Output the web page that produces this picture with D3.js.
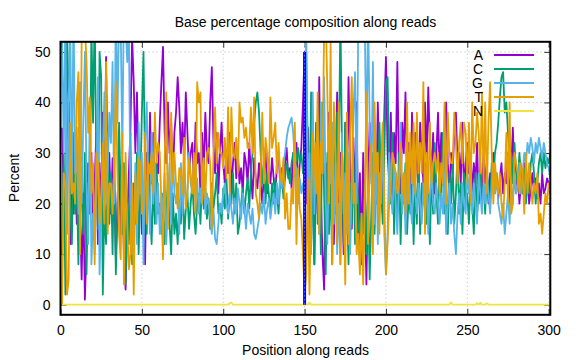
<!DOCTYPE html>
<html lang="en">
<head>
<meta charset="utf-8">
<script src="https://d3js.org/d3.v7.min.js"></script>
<style>
  body { margin: 0; background: #fff; }
  text { font-family: "Liberation Sans", Arial, sans-serif; fill: #000; }
</style>
</head>
<body>
<div id="chart"></div>
<script>

// positions 1..301 along the read
var bases = ["A", "C", "G", "T", "N"];
var colors = ["#9400d3", "#009e73", "#56b4e9", "#e69f00", "#f0e442"];

var baseA = [
  35, 20, 14, 28, 40, 12, 24, 18, 30, 16,
  26, 18, 5, 22, 1, 12, 28, 20, 30, 15,
  24, 34, 12, 28, 18, 38, 22, 49, 26, 30,
  18, 29, 24, 9, 20, 29, 14, 22, 10, 3,
  16, 26, 35, 53, 44, 30, 42, 25, 28, 14,
  22, 8, 30, 20, 38, 24, 34, 18, 28, 26,
  36, 44, 51, 34, 28, 40, 30, 36, 24, 34,
  38, 45, 39, 30, 36, 28, 42, 34, 26, 30,
  32, 24, 36, 28, 30, 22, 34, 26, 38, 30,
  28, 40, 47, 32, 26, 34, 22, 30, 36, 28,
  24, 30, 26, 34, 22, 28, 32, 25, 30, 24,
  27, 22, 30, 28, 24, 32, 26, 21, 29, 25,
  23, 28, 24, 20, 26, 31, 22, 27, 24, 29,
  25, 21, 28, 30, 24, 26, 22, 28, 31, 25,
  27, 23, 30, 26, 32, 22, 28, 31, 40, 50,
  20, 35, 12, 40, 24, 8, 30, 18, 45, 22,
  10, 3, 28, 15, 38, 20, 32, 12, 26, 42,
  18, 30, 24, 10, 36, 22, 45, 28, 15, 33,
  20, 40, 12, 26, 8, 30, 18, 4, 24, 36,
  28, 14, 34, 20, 40, 26, 30, 18, 38, 49,
  30, 24, 38, 20, 34, 28, 48, 26, 22, 36,
  30, 42, 24, 32, 20, 38, 26, 34, 28, 22,
  36, 30, 24, 40, 28, 43, 32, 26, 34, 22,
  30, 38, 26, 34, 24, 32, 40, 28, 22, 30,
  26, 34, 38, 28, 30, 24, 36, 22, 28, 32,
  26, 30, 22, 28, 24, 32, 20, 26, 22, 30,
  24, 28, 20, 26, 23, 30, 22, 26, 21, 25,
  28, 22, 26, 24, 30, 20, 27, 35, 24, 22,
  26, 20, 24, 22, 28, 21, 25, 20, 23, 26,
  22, 25, 21, 24, 20, 26, 22, 23, 25, 24,
  22
];

var baseC = [
  10, 30, 2, 55, 41, 20, 12, 34, 18, 26,
  8, 40, 22, 14, 30, 6, 24, 18, 55, 36,
  58, 28, 15, 50, 45, 2, 20, 12, 34, 16,
  26, 10, 30, 6, 18, 36, 22, 14, 28, 4,
  20, 12, 34, 8, 24, 16, 30, 10, 22, 38,
  50, 26, 14, 30, 20, 12, 24, 16, 28, 18,
  20, 14, 22, 12, 18, 25, 16, 10, 22, 14,
  18, 12, 20, 16, 24, 13, 19, 22, 15, 20,
  24, 18, 14, 20, 22, 16, 25, 19, 23, 17,
  21, 15, 24, 19, 22, 26, 18, 20, 16, 23,
  19, 25, 17, 22, 20, 26, 18, 24, 14, 16,
  20, 23, 18, 22, 25, 19, 26, 30, 36, 40,
  42, 38, 30, 24, 28, 20, 26, 22, 18, 24,
  20, 25, 22, 18, 24, 27, 21, 25, 28, 26,
  24, 28, 30, 27, 29, 31, 28, 30, 26, 29,
  50, 30, 12, 42, 20, 8, 36, 16, 28, 10,
  40, 22, 6, 30, 14, 24, 8, 34, 18, 38,
  26, 58, 30, 12, 36, 20, 8, 24, 16, 30,
  12, 26, 20, 8, 18, 14, 24, 10, 22, 5,
  18, 30, 14, 26, 20, 36, 24, 16, 30, 44,
  45, 28, 20, 34, 14, 26, 18, 30, 12, 24,
  20, 28, 14, 22, 18, 26, 12, 24, 16, 30,
  14, 24, 20, 28, 16, 22, 12, 26, 18, 32,
  22, 16, 28, 20, 34, 18, 24, 14, 26, 20,
  28, 16, 22, 30, 18, 24, 14, 26, 20, 22,
  16, 24, 20, 14, 26, 18, 22, 28, 20, 24,
  18, 26, 22, 20, 28, 24, 30, 32, 36, 41,
  45, 46, 38, 40, 34, 28, 30, 24, 32, 26,
  24, 30, 26, 22, 27, 20, 25, 22, 28, 30,
  26, 20, 24, 28, 30, 26, 30, 27, 29, 28,
  30
];

var baseG = [
  52, 30, 58, 14, 40, 55, 22, 60, 26, 35,
  18, 44, 20, 36, 50, 24, 12, 40, 8, 18,
  10, 22, 45, 6, 18, 30, 42, 20, 26, 38,
  32, 48, 20, 60, 36, 58, 55, 30, 62, 56,
  48, 55, 20, 10, 14, 28, 12, 36, 22, 30,
  8, 32, 40, 22, 14, 34, 20, 28, 16, 24,
  14, 22, 18, 26, 12, 20, 28, 16, 30, 22,
  20, 24, 14, 28, 18, 26, 20, 22, 30, 24,
  22, 28, 20, 25, 18, 23, 20, 26, 18, 22,
  20, 17, 14, 19, 13, 12, 16, 20, 18, 22,
  24, 20, 18, 22, 19, 16, 21, 18, 23, 20,
  17, 22, 19, 15, 20, 18, 16, 19, 14, 13,
  15, 17, 20, 18, 22, 16, 19, 21, 17, 20,
  22, 18, 24, 20, 26, 23, 28, 30, 33, 35,
  36, 37, 34, 28, 27, 20, 25, 22, 24, 20,
  56, 20, 30, 10, 42, 18, 32, 24, 14, 40,
  26, 45, 20, 12, 30, 24, 36, 16, 28, 10,
  20, 8, 34, 18, 26, 14, 30, 10, 24, 38,
  46, 20, 56, 62, 58, 60, 55, 30, 58, 36,
  24, 48, 16, 30, 12, 26, 20, 34, 14, 6,
  14, 30, 22, 18, 28, 20, 14, 24, 36, 18,
  26, 14, 22, 30, 20, 16, 28, 22, 18, 24,
  20, 16, 24, 18, 28, 14, 22, 26, 20, 18,
  24, 20, 16, 22, 18, 26, 14, 20, 24, 16,
  20, 14, 10, 18, 22, 16, 24, 20, 18, 26,
  22, 28, 18, 24, 20, 16, 26, 22, 18, 24,
  20, 26, 22, 18, 24, 28, 22, 26, 20, 18,
  16, 20, 14, 18, 22, 16, 24, 20, 26, 22,
  24, 28, 22, 26, 30, 28, 32, 30, 33, 31,
  28, 32, 30, 33, 31, 29, 32, 30, 28, 27,
  25
];

var baseT = [
  0, 26, 24, 2, 5, 36, 22, 24, 20, 40,
  46, 10, 52, 60, 55, 48, 34, 41, 22, 28,
  8, 30, 28, 16, 22, 32, 16, 48, 14, 24,
  24, 18, 26, 44, 26, 14, 9, 34, 4, 30,
  16, 7, 10, 24, 2, 26, 16, 29, 28, 18,
  20, 34, 16, 28, 26, 30, 22, 38, 28, 32,
  30, 20, 9, 28, 42, 15, 26, 38, 24, 30,
  24, 19, 27, 26, 22, 33, 19, 22, 29, 26,
  22, 30, 18, 44, 40, 42, 20, 29, 21, 30,
  31, 28, 15, 30, 39, 28, 34, 30, 30, 27,
  33, 25, 39, 22, 39, 30, 29, 33, 26, 40,
  36, 37, 33, 35, 31, 31, 39, 30, 41, 22,
  20, 17, 26, 38, 24, 33, 30, 24, 41, 31,
  33, 36, 26, 32, 26, 24, 29, 17, 22, 15,
  15, 23, 20, 36, 12, 27, 19, 17, 10, 2,
  6, 25, 2, 20, 34, 30, 22, 42, 14, 32,
  26, 55, 58, 42, 20, 52, 8, 40, 30, 12,
  40, 8, 30, 22, 4, 38, 12, 34, 45, 20,
  24, 10, 14, 6, 18, 4, 20, 42, 12, 28,
  32, 10, 40, 26, 30, 14, 28, 36, 20, 6,
  12, 20, 24, 30, 28, 26, 22, 24, 32, 22,
  26, 18, 40, 20, 34, 24, 36, 22, 38, 26,
  32, 26, 44, 14, 30, 22, 36, 24, 28, 30,
  26, 30, 22, 28, 24, 40, 20, 38, 30, 28,
  28, 38, 32, 24, 32, 36, 28, 36, 34, 24,
  36, 20, 40, 30, 32, 38, 34, 26, 42, 24,
  40, 22, 36, 44, 30, 20, 28, 24, 22, 26,
  20, 17, 24, 34, 20, 40, 18, 20, 30, 28,
  26, 22, 28, 26, 18, 30, 22, 28, 24, 20,
  24, 22, 26, 16, 18, 14, 18, 22, 20, 24,
  22
];

var baseN = [
  0, 0, 0, 0, 0, 0, 0, 0, 0, 0,
  0, 0, 0, 0, 0, 0, 0, 0, 0, 0,
  0, 0, 0, 0, 0, 0, 0, 0, 0, 0,
  0, 0, 0, 0, 0, 0, 0, 0, 0, 0,
  0, 0, 0, 0, 0, 0, 0, 0, 0, 0,
  0, 0, 0, 0, 0, 0, 0, 0, 0, 0,
  0, 0, 0, 0, 0, 0, 0, 0, 0, 0,
  0, 0, 0, 0, 0, 0, 0, 0, 0, 0,
  0, 0, 0, 0, 0, 0, 0, 0, 0, 0,
  0, 0, 0, 0, 0, 0, 0, 0, 0, 0,
  0, 0, 0, 0.3, 0.4, 0, 0, 0, 0, 0,
  0, 0, 0, 0, 0, 0, 0, 0, 0, 0,
  0, 0, 0, 0, 0, 0, 0, 0, 0, 0,
  0, 0, 0, 0, 0, 0, 0, 0, 0, 0,
  0, 0, 0, 0, 0, 0, 0, 0, 0, 0,
  0, 0, 0.4, 0, 0, 0, 0, 0, 0, 0,
  0, 0, 0, 0, 0, 0, 0, 0, 0, 0,
  0, 0, 0, 0, 0, 0, 0, 0, 0, 0,
  0, 0, 0, 0, 0, 0, 0, 0, 0, 0,
  0, 0, 0, 0, 0, 0, 0, 0, 0, 0,
  0, 0, 0, 0, 0, 0, 0, 0, 0, 0,
  0, 0, 0, 0, 0, 0, 0, 0, 0, 0,
  0, 0, 0, 0, 0, 0, 0, 0, 0, 0,
  0, 0, 0, 0, 0, 0, 0, 0, 0, 0.5,
  0, 0, 0, 0, 0, 0, 0, 0, 0, 0,
  0, 0, 0, 0, 0, 0.3, 0, 0.4, 0, 0,
  0, 0.3, 0, 0, 0, 0, 0, 0, 0, 0,
  0, 0, 0, 0, 0, 0, 0, 0, 0, 0,
  0, 0, 0, 0, 0, 0, 0, 0, 0, 0,
  0, 0, 0, 0, 0, 0, 0, 0, 0, 0,
  0
];

// vertical marker drawn at the read junction
var markerPos = [150];
var markerRange = [0, 50];

var xTicks = [0, 50, 100, 150, 200, 250, 300];
var yTicks = [0, 10, 20, 30, 40, 50];

var series = [baseA, baseC, baseG, baseT, baseN];

var width = 576, height = 360;
var margin = {top: 41.8, right: 25.7, bottom: 45.2, left: 60.5};

var svg = d3.select("#chart")
  .append("svg")
    .attr("width", width)
    .attr("height", height);

var x = d3.scaleLinear()
  .domain([0, 301])
  .range([margin.left, width - margin.right]);

var y = d3.scaleLinear()
  .domain([-2, 52])
  .range([height - margin.bottom, margin.top]);

svg.append("clipPath").attr("id", "plotclip")
  .append("rect")
    .attr("x", margin.left)
    .attr("y", margin.top)
    .attr("width", width - margin.left - margin.right)
    .attr("height", height - margin.top - margin.bottom);

// grid
var grid = svg.append("g")
  .attr("stroke", "#bbbbbb")
  .attr("stroke-width", 1)
  .attr("stroke-dasharray", "1,3");

grid.selectAll(".gx")
  .data(xTicks)
  .enter().append("line")
    .attr("x1", function(d) { return x(d); })
    .attr("x2", function(d) { return x(d); })
    .attr("y1", margin.top)
    .attr("y2", height - margin.bottom);

grid.selectAll(".gy")
  .data(yTicks)
  .enter().append("line")
    .attr("x1", margin.left)
    .attr("x2", width - margin.right)
    .attr("y1", function(d) { return y(d); })
    .attr("y2", function(d) { return y(d); });

// axes, ticks pointing inwards on all four sides
function styleAxis(g) {
  g.select(".domain").remove();
  g.selectAll(".tick line").attr("stroke", "#333").attr("stroke-width", 1);
  g.selectAll("text")
    .style("font-family", "'Liberation Sans', Arial, sans-serif")
    .style("font-size", "14px")
    .attr("fill", "#000");
}

svg.append("g")
  .attr("transform", "translate(0," + (height - margin.bottom) + ")")
  .call(d3.axisBottom(x).tickValues(xTicks).tickSize(-6).tickPadding(10))
  .call(styleAxis);

svg.append("g")
  .attr("transform", "translate(0," + margin.top + ")")
  .call(d3.axisTop(x).tickValues(xTicks).tickSize(-6).tickFormat(""))
  .call(styleAxis);

svg.append("g")
  .attr("transform", "translate(" + margin.left + ",0)")
  .call(d3.axisLeft(y).tickValues(yTicks).tickSize(-6).tickPadding(10))
  .call(styleAxis);

svg.append("g")
  .attr("transform", "translate(" + (width - margin.right) + ",0)")
  .call(d3.axisRight(y).tickValues(yTicks).tickSize(-6).tickFormat(""))
  .call(styleAxis);

// data lines
var line = d3.line()
  .x(function(d, i) { return x(i + 1); })
  .y(function(d) { return y(d); });

var plot = svg.append("g").attr("clip-path", "url(#plotclip)");

series.forEach(function(vals, i) {
  plot.append("path")
    .datum(vals)
    .attr("fill", "none")
    .attr("stroke", colors[i])
    .attr("stroke-width", 1.8)
    .attr("stroke-linejoin", "round")
    .attr("d", line);
});

// junction marker
plot.selectAll(".marker")
  .data(markerPos)
  .enter().append("line")
    .attr("x1", function(d) { return x(d); })
    .attr("x2", function(d) { return x(d); })
    .attr("y1", y(markerRange[0]))
    .attr("y2", y(markerRange[1]))
    .attr("stroke", "#0000ff")
    .attr("stroke-width", 3);

plot.selectAll(".marker2")
  .data(markerPos)
  .enter().append("line")
    .attr("x1", function(d) { return x(d); })
    .attr("x2", function(d) { return x(d); })
    .attr("y1", y(markerRange[0]))
    .attr("y2", y(markerRange[1]))
    .attr("stroke", "#5a5aff")
    .attr("stroke-width", 1)
    .attr("stroke-dasharray", "2,2");

// border
svg.append("rect")
  .attr("x", margin.left)
  .attr("y", margin.top)
  .attr("width", width - margin.left - margin.right)
  .attr("height", height - margin.top - margin.bottom)
  .attr("fill", "none")
  .attr("stroke", "#000")
  .attr("stroke-width", 2);

// legend
var key = svg.append("g");
bases.forEach(function(b, i) {
  var ky = 55 + 14 * i;
  key.append("text")
    .attr("x", 483)
    .attr("y", ky)
    .attr("dy", "0.36em")
    .attr("text-anchor", "end")
    .style("font-size", "14px")
    .text(b);
  key.append("line")
    .attr("x1", 494).attr("x2", 534)
    .attr("y1", ky).attr("y2", ky)
    .attr("stroke", colors[i])
    .attr("stroke-width", 1.8);
});

// title and axis labels
svg.append("text")
  .attr("x", 305.5)
  .attr("y", 27)
  .attr("text-anchor", "middle")
  .style("font-size", "14px")
  .text("Base percentage composition along reads");

svg.append("text")
  .attr("x", 305.5)
  .attr("y", 355)
  .attr("text-anchor", "middle")
  .style("font-size", "14px")
  .text("Position along reads");

svg.append("text")
  .attr("transform", "translate(19," + 178 + ") rotate(-90)")
  .attr("text-anchor", "middle")
  .style("font-size", "14px")
  .text("Percent");

</script>
</body>
</html>
